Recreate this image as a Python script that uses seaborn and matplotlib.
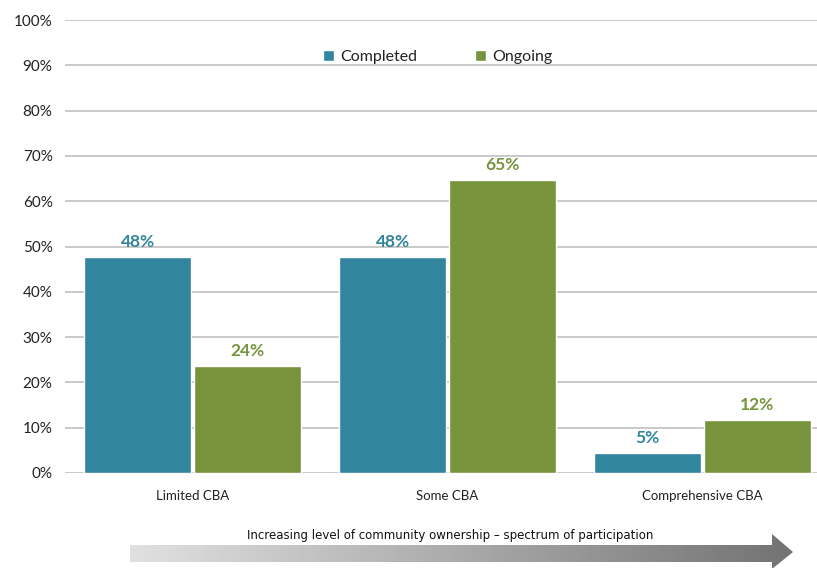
import numpy as np
import pandas as pd
import matplotlib
matplotlib.use("Agg")
import matplotlib.pyplot as plt
from matplotlib.patches import Polygon
import seaborn as sns

categories = ["Limited CBA", "Some CBA", "Comprehensive CBA"]
series = ["Completed", "Ongoing"]
completed = [47.6, 47.6, 4.5]
ongoing = [23.6, 64.7, 11.8]
labels_completed = ["48%", "48%", "5%"]
labels_ongoing = ["24%", "65%", "12%"]
yticks = [0, 10, 20, 30, 40, 50, 60, 70, 80, 90, 100]
arrow_text = "Increasing level of community ownership \u2013 spectrum of participation"

colors = {"Completed": "#31859C", "Ongoing": "#77933C"}

df = pd.DataFrame({
    "category": categories * 2,
    "series": ["Completed"] * 3 + ["Ongoing"] * 3,
    "value": completed + ongoing,
})

sns.set_theme(style="white")
plt.rcParams["font.family"] = ["Lato", "DejaVu Sans"]

W, H = 817, 569
fig = plt.figure(figsize=(W / 100, H / 100), dpi=100)
ax = fig.add_axes([65 / W, 1 - 473 / H, (817 - 65) / W, (473 - 20) / H])

sns.barplot(data=df, x="category", y="value", hue="series", order=categories,
            hue_order=series, palette=colors, width=0.86, gap=0.03,
            saturation=1, ax=ax, legend=True)

ax.set_xlim(-0.5, -0.5 + 752 / 255)
ax.set_ylim(0, 100)
ax.set_yticks(yticks)
ax.set_yticklabels([f"{v}%" for v in yticks], fontsize=11, color="#222222")
ax.tick_params(axis="y", length=0, pad=9)
ax.tick_params(axis="x", length=0, pad=12, labelsize=9.5, labelcolor="#222222")
ax.yaxis.grid(True, color="#C0C0C0", linewidth=1.2)
ax.set_axisbelow(True)
for s in ax.spines.values():
    s.set_visible(False)
ax.set_xlabel("")
ax.set_ylabel("")

for cont, labs, ser in zip(ax.containers, [labels_completed, labels_ongoing], series):
    ax.bar_label(cont, labels=labs, padding=5, fontsize=12.5, fontweight="bold",
                 color=colors[ser])

leg = ax.legend(loc="upper center", bbox_to_anchor=(0.496, 0.965), ncol=2,
                frameon=False, fontsize=11.5, handlelength=0.7, handleheight=0.7,
                columnspacing=3.6, handletextpad=0.4)
for t in leg.get_texts():
    t.set_color("#222222")

# gradient arrow
aax = fig.add_axes([0, 0, 1, 1], facecolor="none")
aax.set_xlim(0, W)
aax.set_ylim(H, 0)
aax.axis("off")
grad = np.linspace(0.88, 0.45, 256).reshape(1, -1)
im = aax.imshow(grad, cmap="gray", vmin=0, vmax=1, aspect="auto",
                extent=[130, 793, 568, 534], zorder=1)
poly = Polygon([(130, 545), (772, 545), (772, 534), (793, 552), (772, 569),
                (772, 562), (130, 562)], closed=True, transform=aax.transData,
               facecolor="none", edgecolor="none")
aax.add_patch(poly)
im.set_clip_path(poly)
aax.text(450, 536, arrow_text, ha="center", va="center", fontsize=8.5,
         family=["Liberation Sans Narrow", "DejaVu Sans"], color="#111111")

fig.savefig("out.png", dpi=100, facecolor="white")
